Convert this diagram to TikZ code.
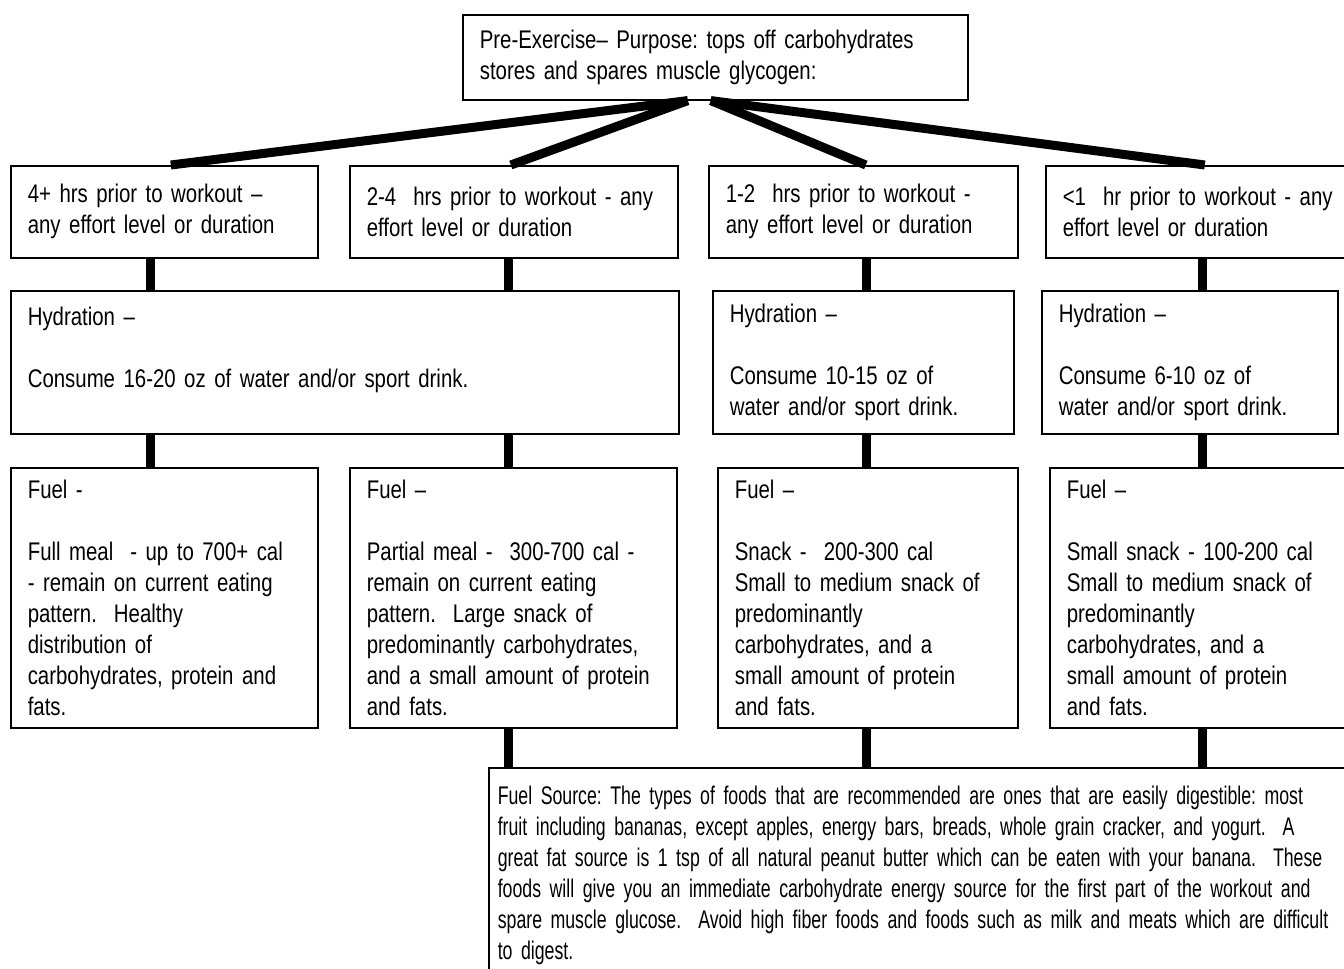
\documentclass[tikz,border=0pt]{standalone}
\usepackage{fontspec}
\setmainfont{Liberation Sans}[FakeStretch=0.8]
\newfontfamily\narrowfont{Liberation Sans}[FakeStretch=0.695]
\usepackage{tikz}
\usetikzlibrary{shapes,arrows,positioning,calc}
\frenchspacing

\begin{document}
\begin{tikzpicture}[
    x=0.5pt, y=-0.5pt,
    box/.style={draw, line width=0.8pt, rectangle, anchor=north west, align=left, inner xsep=8.5pt, inner ysep=0pt, font=\fontsize{12.75}{15.5}\selectfont},
    link/.style={line width=4.5pt}
]
    \clip (0,0) rectangle (1344,969);

    \node [box, text width=235.5pt, minimum height=42.5pt] (pre) at (462,14) {Pre-Exercise– Purpose: tops off carbohydrates\\ stores and spares muscle glycogen:};

    \node [box, text width=136.5pt, minimum height=46pt] (rowA) at (10,165) {4+ hrs prior to workout –\\ any effort level or duration};
    \node [box, text width=147pt, minimum height=46pt] (rowB) at (349,165) {2-4~ hrs prior to workout - any\\ effort level or duration};
    \node [box, text width=137.5pt, minimum height=46pt] (rowC) at (708,165) {1-2~ hrs prior to workout -\\ any effort level or duration};
    \node [box, text width=135.5pt, minimum height=46pt] (rowD) at (1045,165) {<1~ hr prior to workout - any\\ effort level or duration};

    \node [box, text width=317pt, minimum height=71.5pt] (hydAB) at (10,290) {Hydration –\\[15.5pt] Consume 16-20 oz of water and/or sport drink.\\ \mbox{}};
    \node [box, text width=133.5pt, minimum height=71.5pt] (hydC) at (712,290) {Hydration –\\[15.5pt] Consume 10-15 oz of\\ water and/or sport drink.};
    \node [box, text width=131pt, minimum height=71.5pt] (hydD) at (1041,290) {Hydration –\\[15.5pt] Consume 6-10 oz of\\ water and/or sport drink.};

    \node [box, text width=136.5pt, minimum height=130pt] (fuelA) at (10,467) {Fuel -\\[15.5pt] Full meal~ - up to 700+ cal\\ - remain on current eating\\ pattern.~ Healthy\\ distribution of\\ carbohydrates, protein and\\ fats.};
    \node [box, text width=146.5pt, minimum height=130pt] (fuelB) at (349,467) {Fuel –\\[15.5pt] Partial meal -~ 300-700 cal -\\ remain on current eating\\ pattern.~ Large snack of\\ predominantly carbohydrates,\\ and a small amount of protein\\ and fats.};
    \node [box, text width=133pt, minimum height=130pt] (fuelC) at (717,467) {Fuel –\\[15.5pt] Snack -~ 200-300 cal\\ Small to medium snack of\\ predominantly\\ carbohydrates, and a\\ small amount of protein\\ and fats.};
    \node [box, text width=131.5pt, minimum height=130pt] (fuelD) at (1049,467) {Fuel –\\[15.5pt] Small snack - 100-200 cal\\ Small to medium snack of\\ predominantly\\ carbohydrates, and a\\ small amount of protein\\ and fats.};

    \node [box, inner xsep=4.5pt, inner ysep=9pt, text width=460pt, font=\narrowfont\fontsize{12.75}{15.5}\selectfont] (source) at (488,767) {Fuel Source: The types of foods that are recommended are ones that are easily digestible: most\\ fruit including bananas, except apples, energy bars, breads, whole grain cracker, and yogurt.~ A\\ great fat source is 1 tsp of all natural peanut butter which can be eaten with your banana.~ These\\ foods will give you an immediate carbohydrate energy source for the first part of the workout and\\ spare muscle glucose.~ Avoid high fiber foods and foods such as milk and meats which are difficult\\ to digest.};

    \draw [link] ([xshift=-13.75pt]pre.south) -- ([xshift=3.25pt]rowA.north);
    \draw [link] ([xshift=-13.75pt]pre.south) -- ([xshift=-1.5pt]rowB.north);
    \draw [link] ([xshift=-2.25pt]pre.south) -- ([xshift=1.25pt]rowC.north);
    \draw [link] ([xshift=-2.25pt]pre.south) -- ([xshift=3.25pt]rowD.north);

    \draw [link] ([xshift=-6.75pt]rowA.south) -- ([xshift=-6.75pt]rowA.south |- hydAB.north);
    \draw [link] ([xshift=-2.5pt]rowB.south) -- ([xshift=-2.5pt]rowB.south |- hydAB.north);
    \draw [link] ([xshift=1.75pt]rowC.south) -- ([xshift=1.75pt]rowC.south |- hydC.north);
    \draw [link] ([xshift=2.25pt]rowD.south) -- ([xshift=2.25pt]rowD.south |- hydD.north);

    \draw [link] ([xshift=-6.75pt]fuelA.north |- hydAB.south) -- ([xshift=-6.75pt]fuelA.north);
    \draw [link] ([xshift=-2.25pt]fuelB.north |- hydAB.south) -- ([xshift=-2.25pt]fuelB.north);
    \draw [link] ([xshift=-0.5pt]fuelC.north |- hydC.south) -- ([xshift=-0.5pt]fuelC.north);
    \draw [link] ([xshift=2.25pt]fuelD.north |- hydD.south) -- ([xshift=2.25pt]fuelD.north);

    \draw [link] ([xshift=-2.25pt]fuelB.south) -- ([xshift=-2.25pt]fuelB.south |- source.north);
    \draw [link] ([xshift=-0.5pt]fuelC.south) -- ([xshift=-0.5pt]fuelC.south |- source.north);
    \draw [link] ([xshift=2.25pt]fuelD.south) -- ([xshift=2.25pt]fuelD.south |- source.north);
\end{tikzpicture}
\end{document}
